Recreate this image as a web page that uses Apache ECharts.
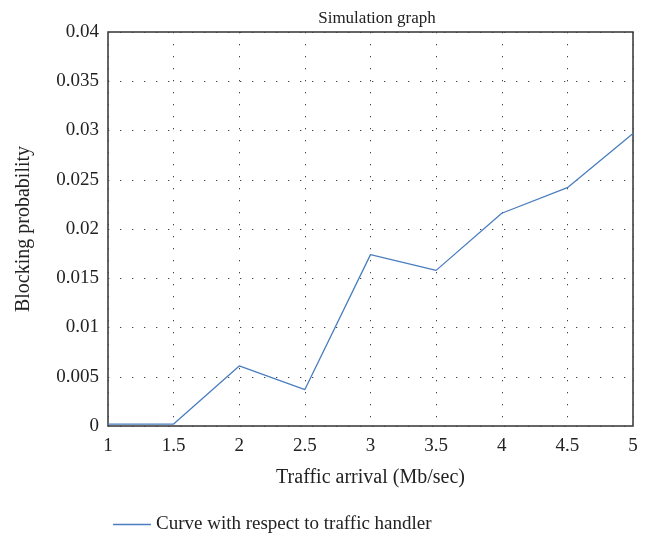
<html>
<head>
<meta charset="utf8">
<script src="https://cdn.jsdelivr.net/npm/echarts@6/dist/echarts.min.js"></script>
<style>
  body { margin: 0; background: #fff; }
  #main { width: 650px; height: 537px; }
</style>
</head>
<body>
<div id="main"></div>
<script type="text/javascript">
	// traffic arrival (Mb/sec)
	var arrival = [1, 1.5, 2, 2.5, 3, 3.5, 4, 4.5, 5];
	// blocking probability
	var blocking = [0.0002, 0.0002, 0.0061, 0.0037, 0.0174, 0.0158, 0.0216, 0.0242, 0.0297];
	var seriesName = 'Curve with respect to traffic handler';

	var font = 'Liberation Serif';
	var points = [];
	for (var i = 0; i < arrival.length; i++) {
		points.push([arrival[i], blocking[i]]);
	}

	var myChart = echarts.init(document.getElementById('main'));
	var dotted = { color: '#444', width: 1, type: [1.3, 10.7] };
	var option = {
		animation: false,
		title: {
			text: 'Simulation graph',
			left: 372, top: 5, textAlign: 'center',
			textStyle: { fontFamily: font, fontSize: 17, fontWeight: 'normal', color: '#222' }
		},
		legend: {
			left: 108, top: 510,
			itemWidth: 38, itemHeight: 1.5, itemGap: 10,
			textStyle: { fontFamily: font, fontSize: 19, color: '#222' },
			data: [{ name: seriesName, icon: 'rect' }]
		},
		grid: {
			left: 108, right: 17, top: 32, bottom: 111,
			show: true, borderColor: '#333', borderWidth: 1.5
		},
		xAxis: {
			type: 'value', min: 1, max: 5, interval: 0.5,
			name: 'Traffic arrival (Mb/sec)', nameLocation: 'middle', nameGap: 42,
			nameTextStyle: { fontFamily: font, fontSize: 20, color: '#222' },
			axisLine: { show: false }, axisTick: { show: false },
			axisLabel: { fontFamily: font, fontSize: 19, color: '#222', margin: 11 },
			splitLine: { show: true, lineStyle: dotted }
		},
		yAxis: {
			type: 'value', min: 0, max: 0.04, interval: 0.005,
			name: 'Blocking probability', nameLocation: 'middle', nameGap: 74,
			nameTextStyle: { fontFamily: font, fontSize: 20, color: '#222' },
			axisLine: { show: false }, axisTick: { show: false },
			axisLabel: { fontFamily: font, fontSize: 19, color: '#222', margin: 9 },
			splitLine: { show: true, lineStyle: dotted }
		},
		series: [{
			name: seriesName, type: 'line', data: points,
			symbol: 'none',
			lineStyle: { color: '#4a7ebf', width: 1.3 },
			itemStyle: { color: '#4a7ebf' }
		}]
	};
	myChart.setOption(option);
</script>
</body>
</html>
